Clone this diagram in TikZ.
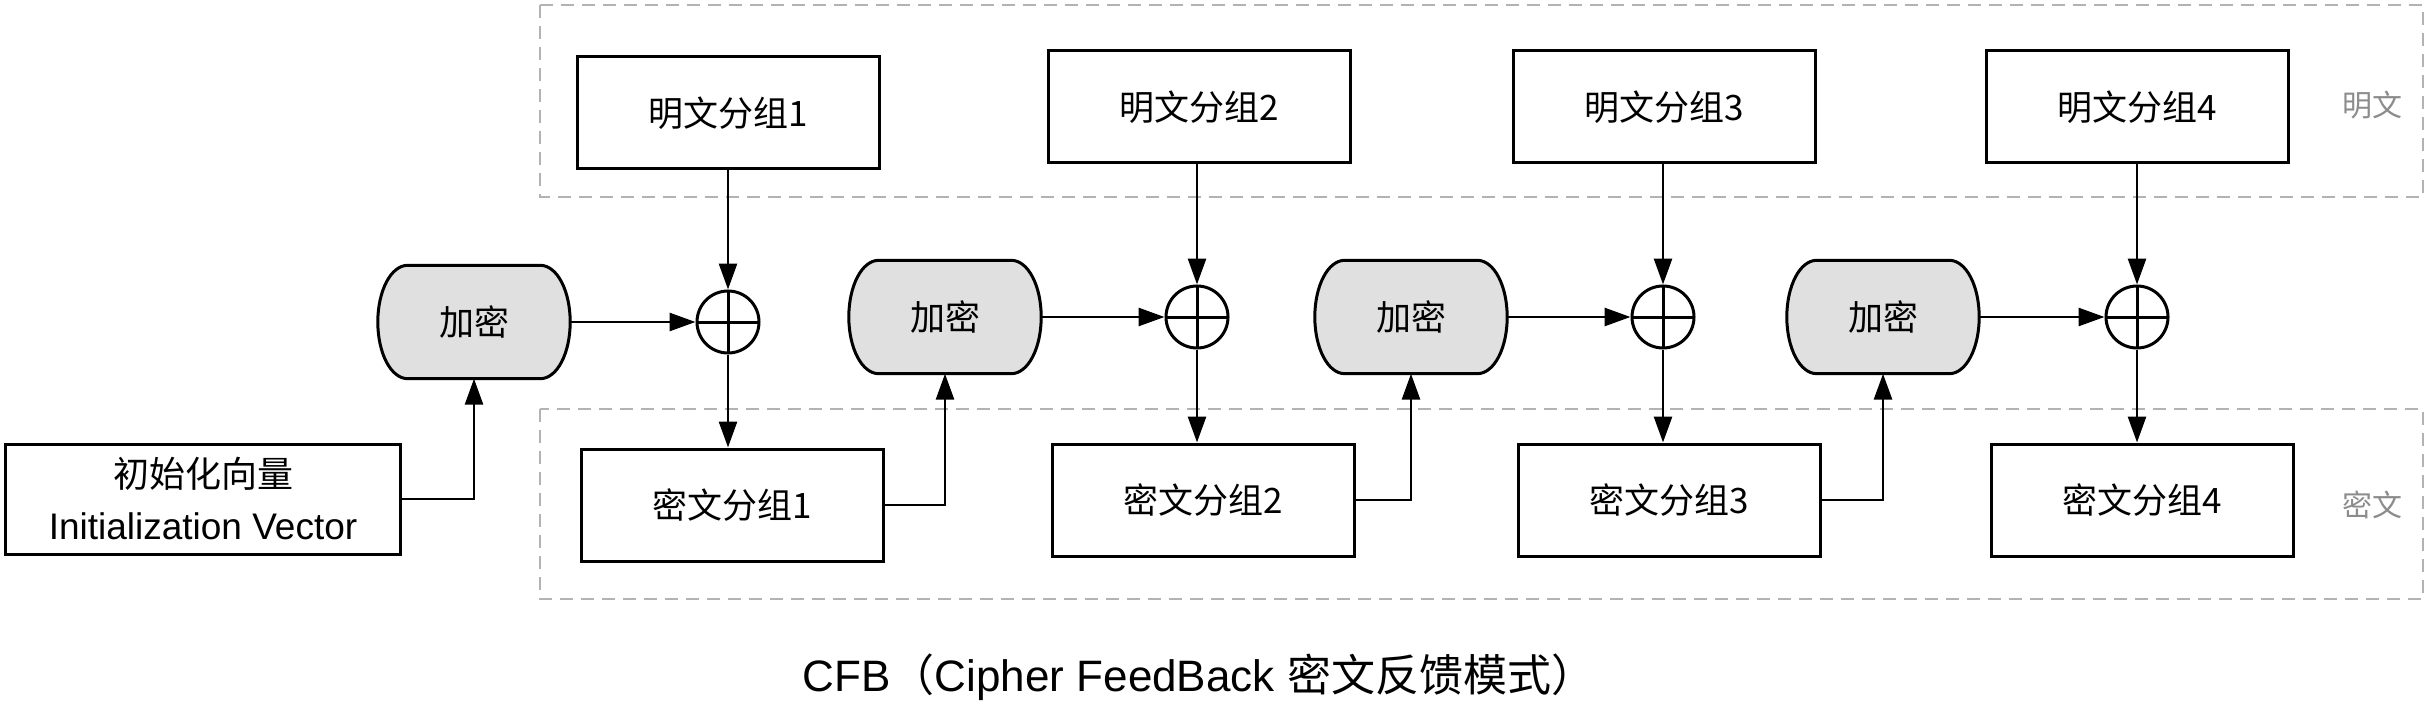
\documentclass[tikz,border=0pt]{standalone}
\usepackage{fontspec}
\setmainfont{Liberation Sans}
\newfontfamily\cjk{Noto Sans CJK SC}
\usetikzlibrary{arrows.meta,backgrounds}
\definecolor{encgray}{HTML}{E0E0E0}
\definecolor{zonegray}{HTML}{B3B3B3}
\definecolor{labelgray}{HTML}{8C8C8C}
\begin{document}
\begin{tikzpicture}[x=1pt,y=-1pt,
  box/.style={draw,line width=3pt,minimum width=302pt,minimum height=112pt,inner sep=0pt,font=\fontsize{35}{42}\selectfont\cjk},
  enc/.style={rectangle,minimum width=192pt,minimum height=113pt,inner sep=0pt,font=\fontsize{35}{42}\selectfont\cjk},
  encline/.style={draw,line width=3pt,fill=encgray},
  xor/.style={circle,draw,line width=3pt,minimum size=62pt,inner sep=0pt,
    path picture={\draw[line width=3pt] (path picture bounding box.north) -- (path picture bounding box.south) (path picture bounding box.west) -- (path picture bounding box.east);}},
  arr/.style={line width=2.8pt,-{Triangle[length=26pt,width=18pt]}},
  zone/.style={draw=zonegray,line width=2.8pt,dash pattern=on 13pt off 8pt},
  zonelabel/.style={text=labelgray,font=\fontsize{30}{36}\selectfont\cjk,inner sep=0pt},
]
\useasboundingbox (0,0) rectangle (2428,722);
% zones
\draw[zone] (540,5) rectangle (2423,197);
\draw[zone] (540,409) rectangle (2423,599);
\node[zonelabel] (lplain) at (2372,105) {明文};
\node[zonelabel] (lcipher) at (2372,505) {密文};
% plaintext
\node[box] (p1) at (728,113) {明文分组1};
\node[box] (p2) at (1199,107) {明文分组2};
\node[box] (p3) at (1664,107) {明文分组3};
\node[box] (p4) at (2137,107) {明文分组4};
% xor
\node[xor] (x1) at (728,322) {};
\node[xor] (x2) at (1197,317) {};
\node[xor] (x3) at (1663,317) {};
\node[xor] (x4) at (2137,317) {};
% encrypt
\node[enc] (e1) at (474,322) {加密};
\node[enc] (e2) at (945,317) {加密};
\node[enc] (e3) at (1411,317) {加密};
\node[enc] (e4) at (1883,317) {加密};
\begin{scope}[on background layer]
\foreach \i in {1,2,3,4}{
  \path[encline] ([xshift=30pt]e\i.north west) -- ([xshift=-30pt]e\i.north east)
    .. controls ([xshift=-13pt]e\i.north east) and ([yshift=31pt]e\i.east) .. (e\i.east)
    .. controls ([yshift=-31pt]e\i.east) and ([xshift=-13pt]e\i.south east) .. ([xshift=-30pt]e\i.south east)
    -- ([xshift=30pt]e\i.south west)
    .. controls ([xshift=13pt]e\i.south west) and ([yshift=-31pt]e\i.west) .. (e\i.west)
    .. controls ([yshift=31pt]e\i.west) and ([xshift=13pt]e\i.north west) .. ([xshift=30pt]e\i.north west)
    -- cycle;
}
\end{scope}
% ciphertext
\node[box] (c1) at (732,505) {密文分组1};
\node[box] (c2) at (1203,500) {密文分组2};
\node[box] (c3) at (1669,500) {密文分组3};
\node[box] (c4) at (2142,500) {密文分组4};
% IV
\node[draw,line width=3pt,minimum width=395pt,minimum height=110pt,inner sep=0pt,align=center,font=\fontsize{36}{52}\selectfont] (iv) at (203,499)
  {{\cjk 初始化向量}\\{\fontsize{37}{52}\selectfont Initialization Vector}};
% arrows
\draw[arr] (iv.east) -| (e1.south);
\foreach \i in {1,2,3,4}{
  \draw[arr] (p\i.south -| x\i) -- (x\i.north);
  \draw[arr] (e\i.east) -- (x\i.west);
  \draw[arr] (x\i.south) -- (x\i.south |- c\i.north);
}
\draw[arr] (c1.east) -| (e2.south);
\draw[arr] (c2.east) -| (e3.south);
\draw[arr] (c3.east) -| (e4.south);
% title
\node (title) at (1199,677) {\fontsize{44}{50}\selectfont CFB{\cjk （}Cipher FeedBack {\cjk 密文反馈模式）}};
\end{tikzpicture}
\end{document}
